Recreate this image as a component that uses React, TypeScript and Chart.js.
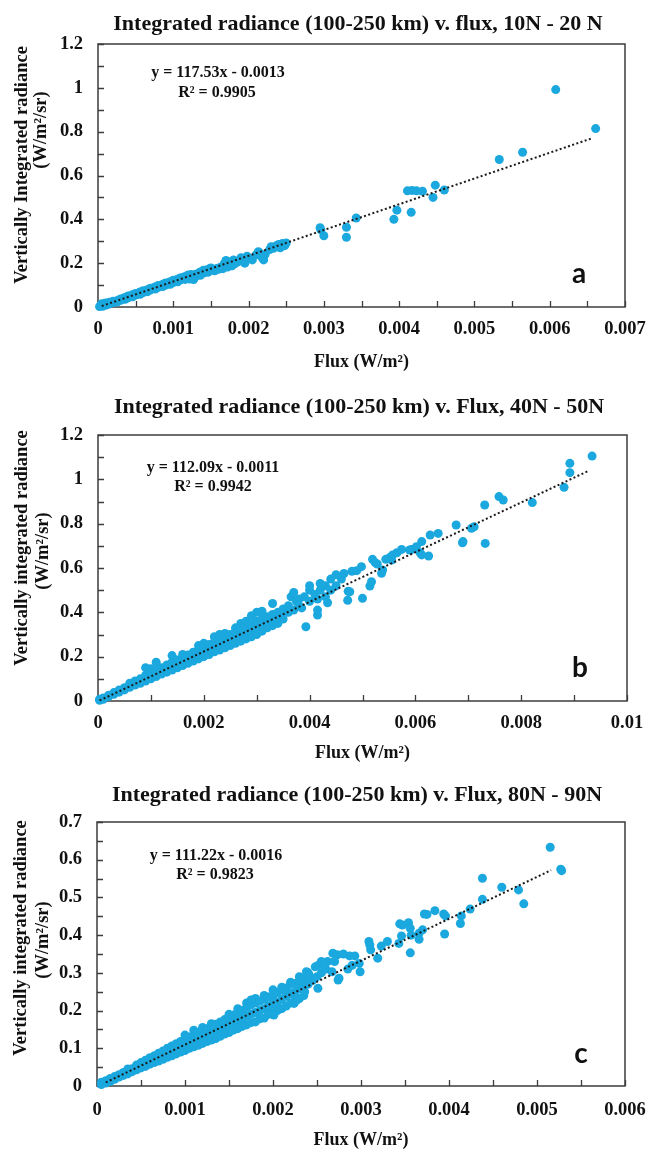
import React, { useEffect, useRef } from 'react';
import { Chart, registerables } from 'chart.js';

Chart.register(...registerables);

type Pt = [number, number];

// ---------------- DATA ----------------
const titleA = 'Integrated radiance (100-250 km) v. flux, 10N - 20 N';
const titleB = 'Integrated radiance (100-250 km) v. Flux, 40N - 50N';
const titleC = 'Integrated radiance (100-250 km) v. Flux, 80N - 90N';
const yTitleA = ['Vertically Integrated radiance', '(W/m²/sr)'];
const yTitleBC = ['Vertically integrated radiance', '(W/m²/sr)'];
const xTitle = 'Flux (W/m²)';

const eqA = ['y = 117.53x - 0.0013', 'R² = 0.9905'];
const eqB = ['y = 112.09x - 0.0011', 'R² = 0.9942'];
const eqC = ['y = 111.22x - 0.0016', 'R² = 0.9823'];

// trendline: slope, intercept, x from, x to
const trendA = [117.53, -0.0013, 0.00005, 0.00656];
const trendB = [112.09, -0.0011, 0.00003, 0.00928];
const trendC = [111.22, -0.0016, 0.0001, 0.00516];

// axis: max, minor tick step, labelled step
const xAxisA = [0.007, 0.0005, 0.001];
const yAxisA = [1.2, 0.1, 0.2];
const xAxisB = [0.01, 0.001, 0.002];
const yAxisB = [1.2, 0.1, 0.2];
const xAxisC = [0.006, 0.0005, 0.001];
const yAxisC = [0.7, 0.05, 0.1];

const pointsA: Pt[] = [
  [0.00002,0.002],[0.00004,0.008],[0.00005,0.015],[0.00006,0.003],[0.00008,0.012],[0.0001,0.008],[0.0001,0.018],[0.00012,0.015],[0.00014,0.012],[0.00015,0.022],[0.00017,0.018],[0.0002,0.02],[0.0002,0.026],[0.00022,0.024],[0.00025,0.028],[0.00025,0.022],[0.00028,0.032],[0.0003,0.03],[0.0003,0.037],[0.00033,0.036],[0.00035,0.042],[0.00036,0.035],[0.00038,0.045],[0.0004,0.042],[0.0004,0.05],[0.00043,0.048],[0.00045,0.055],[0.00046,0.047],[0.00048,0.058],[0.0005,0.055],[0.0005,0.062],[0.00053,0.06],[0.00055,0.067],[0.00056,0.058],[0.00058,0.07],[0.0006,0.066],[0.0006,0.074],[0.00063,0.072],[0.00065,0.078],[0.00066,0.07],[0.00068,0.082],[0.0007,0.078],[0.0007,0.086],[0.00073,0.084],[0.00075,0.09],[0.00076,0.082],[0.00078,0.094],[0.0008,0.09],[0.0008,0.098],[0.00083,0.095],[0.00085,0.102],[0.00086,0.093],[0.00088,0.106],[0.0009,0.1],[0.0009,0.11],[0.00093,0.107],[0.00095,0.114],[0.00096,0.104],[0.00098,0.118],[0.001,0.112],[0.001,0.122],[0.00103,0.118],[0.00105,0.126],[0.00106,0.115],[0.00108,0.13],[0.0011,0.124],[0.0011,0.134],[0.00113,0.13],[0.00115,0.138],[0.00116,0.126],[0.00118,0.142],[0.0012,0.136],[0.0012,0.146],[0.00122,0.128],[0.00124,0.148],[0.00125,0.14],[0.00127,0.125],[0.0013,0.15],[0.0013,0.14],[0.00133,0.148],[0.00135,0.158],[0.00136,0.145],[0.00138,0.162],[0.0014,0.155],[0.0014,0.168],[0.00143,0.162],[0.00145,0.17],[0.00146,0.158],[0.00148,0.174],[0.0015,0.168],[0.0015,0.178],[0.00153,0.172],[0.00155,0.165],[0.00158,0.176],[0.0016,0.172],[0.00162,0.18],[0.00165,0.185],[0.00166,0.175],[0.00168,0.2],[0.0017,0.19],[0.0017,0.212],[0.00172,0.182],[0.00175,0.195],[0.00176,0.205],[0.00178,0.188],[0.0018,0.215],[0.00182,0.198],[0.00185,0.205],[0.0019,0.225],[0.00192,0.21],[0.00195,0.2],[0.00198,0.232],[0.002,0.222],[0.00205,0.215],[0.0021,0.238],[0.00213,0.252],[0.00215,0.245],[0.00218,0.225],[0.0022,0.215],[0.00222,0.24],[0.00228,0.262],[0.0023,0.275],[0.00233,0.268],[0.00237,0.28],[0.0024,0.285],[0.00242,0.27],[0.00245,0.29],[0.00248,0.28],[0.0025,0.292],
  [0.00296,0.352],[0.00295,0.362],[0.003,0.325],[0.0033,0.364],[0.0033,0.318],[0.00343,0.406],[0.00393,0.4],[0.00397,0.442],[0.00411,0.53],[0.00417,0.532],[0.00423,0.53],[0.00431,0.528],[0.00416,0.432],[0.00445,0.5],[0.00448,0.556],[0.0046,0.534],[0.00533,0.673],[0.00564,0.706],[0.00608,0.992],[0.00661,0.814],
];

const pointsB: Pt[] = [
  [0.00003,0.003],[0.00003,0.008],[0.0001,0.008],[0.0001,0.014],[0.0002,0.02],[0.0002,0.026],[0.0003,0.03],[0.0003,0.038],[0.0004,0.04],[0.0004,0.05],[0.0005,0.05],[0.0005,0.06],[0.0006,0.062],[0.0006,0.072],[0.0006,0.08],[0.0007,0.072],[0.0007,0.082],[0.0007,0.09],[0.0008,0.08],[0.0008,0.092],[0.0008,0.1],[0.0009,0.09],[0.0009,0.102],[0.0009,0.115],[0.0009,0.15],[0.001,0.1],[0.001,0.112],[0.001,0.125],[0.001,0.145],[0.0011,0.11],[0.0011,0.122],[0.0011,0.138],[0.0011,0.175],[0.0012,0.122],[0.0012,0.135],[0.0012,0.15],[0.0013,0.13],[0.0013,0.145],[0.0013,0.162],[0.0014,0.14],[0.0014,0.158],[0.0014,0.175],[0.0014,0.205],[0.0015,0.15],[0.0015,0.168],[0.0015,0.185],[0.0016,0.16],[0.0016,0.178],[0.0016,0.195],[0.0016,0.21],[0.0017,0.17],[0.0017,0.19],[0.0017,0.208],[0.0018,0.18],[0.0018,0.2],[0.0018,0.22],[0.0019,0.19],[0.0019,0.212],[0.0019,0.232],[0.0019,0.25],[0.002,0.2],[0.002,0.222],[0.002,0.245],[0.002,0.26],[0.0021,0.21],[0.0021,0.235],[0.0021,0.255],[0.0022,0.222],[0.0022,0.245],[0.0022,0.268],[0.0022,0.29],[0.0023,0.23],[0.0023,0.255],[0.0023,0.28],[0.0023,0.3],[0.0024,0.24],[0.0024,0.268],[0.0024,0.29],[0.0024,0.305],[0.0025,0.25],[0.0025,0.278],[0.0025,0.3],[0.0026,0.26],[0.0026,0.29],[0.0026,0.315],[0.0026,0.33],[0.0027,0.27],[0.0027,0.3],[0.0027,0.325],[0.0027,0.35],[0.0028,0.28],[0.0028,0.31],[0.0028,0.335],[0.0028,0.36],[0.0029,0.29],[0.0029,0.322],[0.0029,0.345],[0.0029,0.385],[0.003,0.3],[0.003,0.332],[0.003,0.36],[0.003,0.4],[0.0031,0.315],[0.0031,0.345],[0.0031,0.37],[0.0031,0.405],[0.0032,0.33],[0.0032,0.355],[0.0032,0.38],[0.0033,0.34],[0.0033,0.365],[0.0033,0.39],[0.0033,0.44],[0.0034,0.35],[0.0034,0.375],[0.0034,0.4],[0.0035,0.37],[0.0035,0.39],[0.0035,0.415],
  [0.0036,0.4],[0.0036,0.43],[0.00365,0.47],[0.0037,0.49],[0.0037,0.41],[0.00375,0.45],[0.0038,0.43],[0.0038,0.46],[0.00385,0.42],[0.0039,0.47],[0.00393,0.335],[0.004,0.45],[0.004,0.5],[0.004,0.52],[0.0041,0.48],[0.00415,0.41],[0.00415,0.388],[0.00415,0.46],[0.0042,0.5],[0.0042,0.53],[0.0043,0.52],[0.0043,0.47],[0.00434,0.443],[0.0044,0.5],[0.0044,0.55],[0.0045,0.52],[0.0045,0.57],[0.0046,0.55],[0.00465,0.575],[0.00472,0.454],[0.00473,0.495],[0.00476,0.493],[0.0048,0.585],[0.00489,0.588],[0.00498,0.606],[0.005,0.463],[0.00514,0.519],[0.00517,0.538],[0.00519,0.639],[0.00524,0.624],[0.00528,0.618],[0.00536,0.576],[0.00538,0.591],[0.00544,0.639],[0.00552,0.648],[0.00555,0.636],[0.00557,0.659],[0.00565,0.669],[0.00574,0.684],[0.00589,0.681],[0.00593,0.684],[0.00602,0.696],[0.00609,0.669],[0.00612,0.659],[0.00612,0.719],[0.00625,0.654],[0.00628,0.749],[0.00643,0.756],[0.00677,0.794],[0.00689,0.714],[0.0069,0.719],[0.00706,0.779],[0.00711,0.786],[0.00731,0.884],[0.00732,0.711],[0.00758,0.922],[0.00766,0.907],[0.00821,0.895],[0.00881,0.964],[0.00892,1.03],[0.00892,1.072],[0.00934,1.105],
];

const pointsC: Pt[] = [
  [0.00005,0.004],[0.00005,0.01],[0.0001,0.008],[0.0001,0.014],[0.00015,0.012],[0.00015,0.02],[0.0002,0.018],[0.0002,0.025],[0.00025,0.024],[0.00025,0.03],[0.0003,0.028],[0.0003,0.036],[0.00035,0.032],[0.00035,0.04],[0.00035,0.045],[0.0004,0.038],[0.0004,0.046],[0.00045,0.043],[0.00045,0.05],[0.00045,0.056],[0.0005,0.048],[0.0005,0.056],[0.0005,0.062],[0.00055,0.052],[0.00055,0.06],[0.00055,0.068],[0.0006,0.058],[0.0006,0.066],[0.0006,0.075],[0.00065,0.062],[0.00065,0.072],[0.00065,0.08],[0.0007,0.066],[0.0007,0.077],[0.0007,0.087],[0.00075,0.071],[0.00075,0.083],[0.00075,0.093],[0.0008,0.076],[0.0008,0.088],[0.0008,0.1],[0.00085,0.08],[0.00085,0.094],[0.00085,0.106],[0.0009,0.085],[0.0009,0.1],[0.0009,0.112],[0.00095,0.09],[0.00095,0.105],[0.00095,0.118],[0.001,0.094],[0.001,0.11],[0.001,0.124],[0.001,0.135],[0.00105,0.1],[0.00105,0.115],[0.00105,0.13],[0.0011,0.104],[0.0011,0.12],[0.0011,0.136],[0.0011,0.148],[0.00115,0.108],[0.00115,0.126],[0.00115,0.142],[0.0012,0.113],[0.0012,0.13],[0.0012,0.148],[0.0012,0.155],[0.00125,0.118],[0.00125,0.136],[0.00125,0.152],[0.0013,0.122],[0.0013,0.142],[0.0013,0.158],[0.0013,0.165],[0.00135,0.126],[0.00135,0.146],[0.00135,0.164],[0.0014,0.132],[0.0014,0.15],[0.0014,0.17],[0.00145,0.138],[0.00145,0.158],[0.00145,0.176],[0.0015,0.142],[0.0015,0.162],[0.0015,0.182],[0.0015,0.19],[0.00155,0.148],[0.00155,0.168],[0.00155,0.188],[0.0016,0.152],[0.0016,0.172],[0.0016,0.195],[0.0016,0.205],[0.00165,0.158],[0.00165,0.18],[0.00165,0.2],[0.0017,0.162],[0.0017,0.185],[0.0017,0.208],[0.0017,0.22],[0.00175,0.168],[0.00175,0.19],[0.00175,0.215],[0.00175,0.228],[0.0018,0.17],[0.0018,0.195],[0.0018,0.22],[0.0018,0.232],[0.00185,0.178],[0.00185,0.2],[0.00185,0.225],[0.0019,0.18],[0.0019,0.205],[0.0019,0.23],[0.0019,0.24],[0.00195,0.19],[0.00195,0.212],[0.00195,0.236],[0.002,0.195],[0.002,0.218],[0.002,0.24],[0.002,0.255],[0.00205,0.2],[0.00205,0.222],[0.00205,0.248],[0.0021,0.205],[0.0021,0.23],[0.0021,0.255],[0.0021,0.262],[0.00215,0.212],[0.00215,0.238],[0.00215,0.26],[0.0022,0.22],[0.0022,0.245],[0.0022,0.27],[0.0022,0.275],[0.00225,0.228],[0.00225,0.25],[0.00225,0.272],[0.0023,0.232],[0.0023,0.258],[0.0023,0.28],[0.0023,0.29],[0.00235,0.24],[0.00235,0.265],[0.00235,0.285],[0.0024,0.27],[0.0024,0.3],[0.00245,0.28],[0.0025,0.29],[0.00255,0.3],[0.0026,0.31],[0.00262,0.33],[0.0027,0.33],[0.00285,0.31],[0.0029,0.32],
  [0.00201,0.188],[0.00224,0.219],[0.00227,0.228],[0.00236,0.25],[0.00238,0.303],[0.00241,0.294],[0.00248,0.316],[0.00251,0.259],[0.00252,0.321],[0.00255,0.33],[0.00267,0.303],[0.00268,0.352],[0.00273,0.348],[0.00274,0.281],[0.00275,0.286],[0.0028,0.35],[0.00287,0.345],[0.00293,0.345],[0.00298,0.325],[0.00299,0.303],[0.00309,0.383],[0.0031,0.374],[0.00311,0.361],[0.00319,0.339],[0.00323,0.371],[0.0033,0.383],[0.00343,0.378],[0.00344,0.43],[0.00346,0.398],[0.00347,0.427],[0.00354,0.433],[0.00356,0.418],[0.00356,0.353],[0.00357,0.4],[0.00366,0.405],[0.00366,0.389],[0.0037,0.414],[0.00372,0.456],[0.00375,0.455],[0.00384,0.465],[0.00394,0.456],[0.00395,0.403],[0.00396,0.451],[0.00413,0.431],[0.00414,0.451],[0.00424,0.469],[0.00438,0.551],[0.00438,0.495],[0.0046,0.527],[0.00479,0.52],[0.00485,0.483],[0.00515,0.633],[0.00527,0.575],[0.00528,0.571],
];

// ---------------- STYLE / LAYOUT ----------------
const SERIF = "'Liberation Serif', 'Times New Roman', serif";
const BLUE = '#1AA8DE';
const INK = '#111111';
const FRAME = '#3c3c3c';
const W = 647;

interface Panel {
  top: number; height: number;
  area: { left: number; top: number; right: number; bottom: number };
  title: string; titlePos: [number, number];
  yTitle: string[]; y1Pos: [number, number]; y2Pos: [number, number];
  eq: string[]; eq1Pos: [number, number]; eq2Pos: [number, number];
  letter: string; letterPos: [number, number];
  xAxis: number[]; yAxis: number[];
  points: Pt[]; trend: number[];
  xTickGap: number; xTitlePad: number;
}

const panels: Panel[] = [
  {
    top: 0, height: 380, area: { left: 98, top: 44, right: 625, bottom: 307 },
    title: titleA, titlePos: [358, 30],
    yTitle: yTitleA, y1Pos: [22, 165], y2Pos: [41, 130],
    eq: eqA, eq1Pos: [218, 73], eq2Pos: [217, 93],
    letter: 'a', letterPos: [579, 283],
    xAxis: xAxisA, yAxis: yAxisA, points: pointsA, trend: trendA,
    xTickGap: 22, xTitlePad: 7,
  },
  {
    top: 380, height: 390, area: { left: 98, top: 55, right: 627, bottom: 321 },
    title: titleB, titlePos: [359, 33],
    yTitle: yTitleBC, y1Pos: [22, 168], y2Pos: [43, 171],
    eq: eqB, eq1Pos: [213, 88], eq2Pos: [213, 107],
    letter: 'b', letterPos: [580, 297],
    xAxis: xAxisB, yAxis: yAxisB, points: pointsB, trend: trendB,
    xTickGap: 22, xTitlePad: 6,
  },
  {
    top: 770, height: 381, area: { left: 97, top: 52, right: 625, bottom: 316 },
    title: titleC, titlePos: [357, 31],
    yTitle: yTitleBC, y1Pos: [21, 168], y2Pos: [43, 170],
    eq: eqC, eq1Pos: [216, 86], eq2Pos: [215, 105],
    letter: 'c', letterPos: [581, 293],
    xAxis: xAxisC, yAxis: yAxisC, points: pointsC, trend: trendC,
    xTickGap: 24, xTitlePad: 0,
  },
];

const fmt = (v: number) => String(parseFloat(v.toFixed(6)));
const isMajor = (v: number, step: number) => Math.abs(v / step - Math.round(v / step)) < 1e-6;

function PanelChart({ p }: { p: Panel }) {
  const ref = useRef<HTMLCanvasElement | null>(null);

  useEffect(() => {
    if (!ref.current) return;
    const [slope, icpt, tx0, tx1] = p.trend;
    const trendPts = [
      { x: tx0, y: slope * tx0 + icpt },
      { x: tx1, y: slope * tx1 + icpt },
    ];

    const decor = {
      id: 'decor',
      beforeDatasetsDraw(chart: any) {
        const { ctx, chartArea: ca, scales } = chart;
        ctx.save();
        ctx.strokeStyle = FRAME;
        ctx.lineWidth = 1.5;
        ctx.strokeRect(ca.left, ca.top, ca.right - ca.left, ca.bottom - ca.top);
        ctx.lineWidth = 1.3;
        ctx.beginPath();
        scales.x.ticks.forEach((t: any) => {
          const px = Math.round(scales.x.getPixelForValue(t.value)) + 0.5;
          ctx.moveTo(px, ca.bottom);
          ctx.lineTo(px, ca.bottom - 6);
        });
        scales.y.ticks.forEach((t: any) => {
          const py = Math.round(scales.y.getPixelForValue(t.value)) + 0.5;
          ctx.moveTo(ca.left, py);
          ctx.lineTo(ca.left + 6, py);
        });
        ctx.stroke();
        ctx.restore();
      },
      afterDraw(chart: any) {
        const { ctx } = chart;
        ctx.save();
        ctx.fillStyle = INK;
        ctx.textAlign = 'center';
        ctx.font = `bold 22px ${SERIF}`;
        ctx.textBaseline = 'alphabetic';
        ctx.fillText(p.title, p.titlePos[0], p.titlePos[1]);
        ctx.font = `bold 18.5px ${SERIF}`;
        ctx.textBaseline = 'middle';
        [p.y1Pos, p.y2Pos].forEach((pos, i) => {
          ctx.save();
          ctx.translate(pos[0], pos[1]);
          ctx.rotate(-Math.PI / 2);
          ctx.fillText(p.yTitle[i], 0, 0);
          ctx.restore();
        });
        ctx.font = `bold 16px ${SERIF}`;
        ctx.fillText(p.eq[0], p.eq1Pos[0], p.eq1Pos[1]);
        ctx.fillText(p.eq[1], p.eq2Pos[0], p.eq2Pos[1]);
        ctx.font = `bold 28px Lato, 'Open Sans', sans-serif`;
        ctx.textBaseline = 'alphabetic';
        ctx.fillText(p.letter, p.letterPos[0], p.letterPos[1]);
        ctx.restore();
      },
    };

    const chart = new Chart(ref.current, {
      type: 'scatter',
      data: {
        datasets: [
          {
            type: 'line',
            data: trendPts,
            borderColor: '#1a1a1a',
            borderWidth: 2,
            borderDash: [2, 2.4],
            pointRadius: 0,
            fill: false,
            order: 0,
          } as any,
          {
            type: 'scatter',
            data: p.points.map(([x, y]) => ({ x, y })),
            backgroundColor: BLUE,
            borderWidth: 0,
            pointRadius: 4.5,
            order: 1,
            clip: false,
          } as any,
        ],
      },
      options: {
        responsive: false,
        animation: false,
        devicePixelRatio: 1,
        events: [],
        layout: { padding: { left: 0, top: p.area.top, right: W - p.area.right, bottom: 0 } },
        plugins: { legend: { display: false }, tooltip: { enabled: false }, title: { display: false } },
        scales: {
          x: {
            type: 'linear',
            min: 0,
            max: p.xAxis[0],
            grid: { display: false, drawTicks: false },
            border: { display: false },
            ticks: {
              stepSize: p.xAxis[1],
              autoSkip: false,
              maxRotation: 0,
              padding: 0,
              color: INK,
              font: { family: SERIF, size: 18.5, weight: 'bold', lineHeight: `${p.xTickGap * 2}px` },
              callback: (v: any) => (isMajor(Number(v), p.xAxis[2]) ? fmt(Number(v)) : ''),
            },
            title: {
              display: true,
              text: xTitle,
              color: INK,
              font: { family: SERIF, size: 18, weight: 'bold' },
              padding: { top: 0, bottom: p.xTitlePad },
            },
            afterFit: (s: any) => { s.height = p.height - p.area.bottom; },
          },
          y: {
            type: 'linear',
            min: 0,
            max: p.yAxis[0],
            grid: { display: false, drawTicks: false },
            border: { display: false },
            ticks: {
              stepSize: p.yAxis[1],
              autoSkip: false,
              padding: 15,
              color: INK,
              font: { family: SERIF, size: 18.5, weight: 'bold' },
              callback: (v: any) => (isMajor(Number(v), p.yAxis[2]) ? fmt(Number(v)) : ''),
            },
            afterFit: (s: any) => { s.width = p.area.left; },
          },
        },
      } as any,
      plugins: [decor],
    });
    return () => chart.destroy();
  }, [p]);

  return (
    <canvas
      ref={ref}
      width={W}
      height={p.height}
      style={{ position: 'absolute', left: 0, top: p.top, width: W, height: p.height, display: 'block' }}
    />
  );
}

export default function App() {
  return (
    <div style={{ position: 'fixed', left: 0, top: 0, width: W, height: 1151, background: '#ffffff', overflow: 'hidden' }}>
      {panels.map((p, i) => (
        <PanelChart key={i} p={p} />
      ))}
    </div>
  );
}
